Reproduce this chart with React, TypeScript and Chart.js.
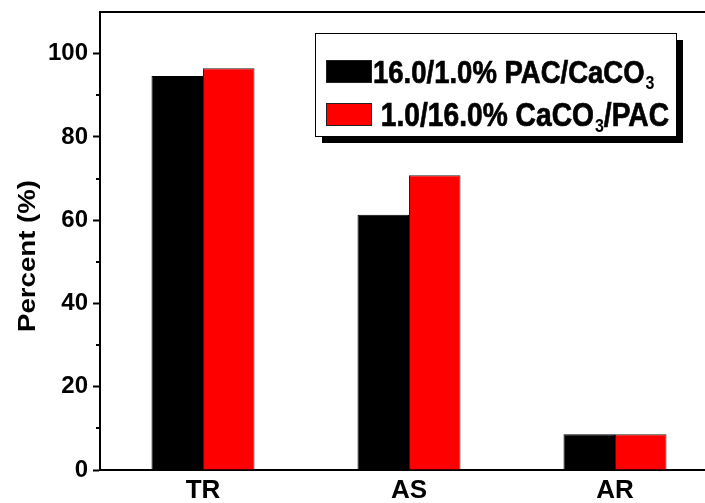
import React, { useEffect, useRef } from "react";
import { Chart, registerables } from "chart.js";

Chart.register(...registerables);

const categories = ["TR", "AS", "AR"];
const seriesLabels = ["16.0/1.0% PAC/CaCO₃", " 1.0/16.0% CaCO₃/PAC"];
const pacCaco3 = [94.6, 61.3, 8.6];
const caco3Pac = [96.5, 70.8, 8.6];
const seriesColors = ["#000000", "#ff0000"];
const yMajorTicks = [0, 20, 40, 60, 80, 100];
const yMinorTicks = [10, 30, 50, 70, 90];
const yTitle = "Percent (%)";
const yMin = 0;
const yMax = 110;

const FONT = '"Liberation Sans", Arial, sans-serif';

function drawRichText(ctx: CanvasRenderingContext2D, text: string, x: number, y: number, size: number, subSize: number, subDrop: number) {
  const parts = text.split("₃");
  let cx = x;
  parts.forEach((p, i) => {
    ctx.font = `bold ${size}px ${FONT}`;
    ctx.fillText(p, cx, y);
    ctx.strokeText(p, cx, y);
    cx += ctx.measureText(p).width;
    if (i < parts.length - 1) {
      ctx.font = `bold ${subSize}px ${FONT}`;
      ctx.fillText("3", cx + 1, y + subDrop);
      cx += ctx.measureText("3").width + 1;
    }
  });
}

const decorPlugin = {
  id: "decor",
  afterDraw(chart: any) {
    const ctx: CanvasRenderingContext2D = chart.ctx;
    const area = chart.chartArea;
    const yScale = chart.scales.y;
    ctx.save();
    ctx.strokeStyle = "#000";
    ctx.lineWidth = 2;
    ctx.beginPath();
    ctx.moveTo(area.left - 1, area.top);
    ctx.lineTo(area.right, area.top);
    ctx.stroke();
    yMinorTicks.forEach((v) => {
      const py = Math.round(yScale.getPixelForValue(v));
      ctx.beginPath();
      ctx.moveTo(area.left - 4, py);
      ctx.lineTo(area.left, py);
      ctx.stroke();
    });
    ctx.fillStyle = "#000";
    ctx.save();
    ctx.translate(28, 256);
    ctx.rotate(-Math.PI / 2);
    ctx.scale(1.15, 1);
    ctx.font = `bold 24px ${FONT}`;
    ctx.textAlign = "center";
    ctx.textBaseline = "middle";
    ctx.fillText(yTitle, 0, 0);
    ctx.restore();
    const bx = 315, by = 33, bw = 361, bh = 103;
    ctx.fillStyle = "#000";
    ctx.fillRect(bx + 7, by + 7, bw, bh);
    ctx.fillStyle = "#fff";
    ctx.fillRect(bx, by, bw, bh);
    ctx.strokeStyle = "#000";
    ctx.lineWidth = 1;
    ctx.strokeRect(bx + 0.5, by + 0.5, bw, bh);
    const rows = [71.5, 114.5];
    seriesLabels.forEach((lab, i) => {
      const cy = rows[i];
      ctx.fillStyle = seriesColors[i];
      ctx.fillRect(326, cy - 11.5, 46, 23);
      ctx.strokeStyle = "#222";
      ctx.lineWidth = 1;
      ctx.strokeRect(326.5, cy - 11, 45, 22);
      ctx.fillStyle = "#000";
      ctx.strokeStyle = "#000";
      ctx.lineWidth = 0.6;
      ctx.save();
      ctx.translate(373, cy + 11.5);
      ctx.scale(1, 1.17);
      ctx.textAlign = "left";
      ctx.textBaseline = "alphabetic";
      drawRichText(ctx, lab, 0, 0, i === 0 ? 27.5 : 28.2, 16, 5);
      ctx.restore();
    });
    ctx.restore();
  },
};

export default function App() {
  const ref = useRef<HTMLCanvasElement | null>(null);
  useEffect(() => {
    document.body.style.margin = "0";
    const chart = new Chart(ref.current as HTMLCanvasElement, {
      type: "bar",
      data: {
        labels: categories,
        datasets: [
          { label: seriesLabels[0], data: pacCaco3, backgroundColor: seriesColors[0], borderColor: "#000", borderWidth: 1 },
          { label: seriesLabels[1], data: caco3Pac, backgroundColor: seriesColors[1], borderColor: "#222", borderWidth: 1 },
        ],
      },
      options: {
        animation: false,
        responsive: false,
        devicePixelRatio: 1,
        layout: { padding: { top: 12, right: 12, left: 0, bottom: 0 } },
        datasets: { bar: { categoryPercentage: 0.5, barPercentage: 1 } },
        plugins: { legend: { display: false }, tooltip: { enabled: false } },
        scales: {
          x: {
            grid: { display: false },
            border: { display: true, color: "#000", width: 2 },
            ticks: { color: "#000", font: { family: FONT, size: 26, weight: "bold" }, padding: -3 },
            afterFit: (s: any) => { s.height = 33; s.paddingLeft = 0; s.paddingRight = 0; },
          },
          y: {
            min: yMin,
            max: yMax,
            afterBuildTicks: (s: any) => {
              s.ticks = yMajorTicks.map((v) => ({ value: v }));
            },
            grid: {
              display: true,
              drawOnChartArea: false,
              drawTicks: true,
              tickLength: 7,
              tickWidth: 2,
              tickColor: "#000",
            },
            border: { display: true, color: "#000", width: 2 },
            ticks: { color: "#000", font: { family: FONT, size: 24, weight: "bold" }, padding: 5 },
            afterFit: (s: any) => { s.width = 100; s.paddingTop = 0; s.paddingBottom = 0; },
          },
        },
      },
      plugins: [decorPlugin],
    } as any);
    return () => chart.destroy();
  }, []);
  return (
    <div style={{ width: 705, height: 503, overflow: "hidden", position: "relative" }}>
      <canvas ref={ref} width={730} height={503} style={{ display: "block" }} />
    </div>
  );
}
